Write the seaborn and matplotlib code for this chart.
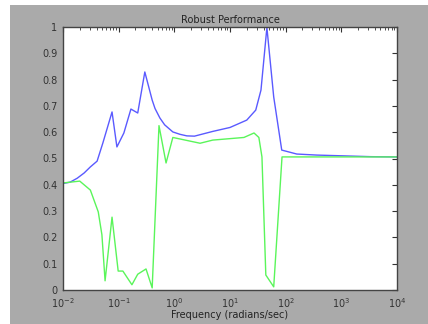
import matplotlib
matplotlib.use("Agg")
import matplotlib.pyplot as plt
import numpy as np
import pandas as pd
import seaborn as sns

# Upper curve (blue)
freq_upper = [0.01, 0.0134, 0.018, 0.024, 0.031, 0.041, 0.052, 0.076, 0.093, 0.124,
              0.166, 0.22, 0.295, 0.40, 0.45, 0.55, 0.67, 0.94, 1.26, 1.68, 2.3,
              4.9, 10, 20, 29, 36, 46, 61, 85, 158, 363, 3400, 10000]
mu_upper = [0.405, 0.41, 0.425, 0.445, 0.468, 0.49, 0.559, 0.677, 0.544, 0.597,
            0.688, 0.673, 0.829, 0.722, 0.69, 0.654, 0.628, 0.601, 0.592, 0.586,
            0.585, 0.603, 0.618, 0.646, 0.684, 0.76, 0.998, 0.734, 0.532, 0.517,
            0.513, 0.507, 0.506]

# Lower curve (green)
freq_lower = [0.01, 0.020, 0.031, 0.043, 0.050, 0.057, 0.076, 0.098, 0.119, 0.173,
              0.22, 0.31, 0.40, 0.53, 0.71, 0.94, 2.9, 4.9, 17.8, 27, 33, 37.5,
              44, 61, 86, 10000]
mu_lower = [0.407, 0.414, 0.38, 0.297, 0.21, 0.035, 0.277, 0.072, 0.072, 0.02,
            0.06, 0.08, 0.008, 0.625, 0.483, 0.58, 0.558, 0.57, 0.58, 0.597,
            0.58, 0.506, 0.057, 0.012, 0.506, 0.506]

title = "Robust Performance"
xlabel = "Frequency (radians/sec)"

sns.set_style("white")
plt.rcParams['font.family'] = ['DejaVu Sans']

fig = plt.figure(figsize=(4.28, 3.24), dpi=100, facecolor="white")
# grey panel (leaves a thin white strip on the left and top)
fig.patches.append(plt.Rectangle((10 / 428, 0), 418 / 428, 319 / 324,
                                 transform=fig.transFigure, facecolor="#aaaaaa",
                                 edgecolor="none", zorder=-10))
ax = fig.add_axes([63 / 428, 34 / 324, 334 / 428, 263 / 324])
ax.set_zorder(1)
ax.set_facecolor("white")

df_up = pd.DataFrame({"freq": freq_upper, "mu": mu_upper})
df_lo = pd.DataFrame({"freq": freq_lower, "mu": mu_lower})
sns.lineplot(data=df_up, x="freq", y="mu", ax=ax, color="#5a5aff", linewidth=1.0)
sns.lineplot(data=df_lo, x="freq", y="mu", ax=ax, color="#5af55a", linewidth=1.0)

ax.set_xscale("log")
ax.set_xlim(1e-2, 1e4)
ax.set_ylim(0, 1)
ax.set_yticks(np.arange(0, 1.01, 0.1))
ax.set_yticklabels(["0", "0.1", "0.2", "0.3", "0.4", "0.5", "0.6", "0.7", "0.8", "0.9", "1"])
ax.set_xticks([1e-2, 1e-1, 1e0, 1e1, 1e2, 1e3, 1e4])
ax.set_xticklabels([r"$10^{-2}$", r"$10^{-1}$", r"$10^{0}$", r"$10^{1}$",
                    r"$10^{2}$", r"$10^{3}$", r"$10^{4}$"])

ax.tick_params(which="both", direction="in", top=True, right=True, colors="#333333",
               labelsize=7, labelcolor="#333333")
ax.tick_params(which="major", length=3.5, width=0.8)
ax.tick_params(axis="y", which="major", pad=4)
ax.tick_params(axis="x", which="major", pad=4.5)
ax.tick_params(which="minor", length=2, width=0.6)
for s in ax.spines.values():
    s.set_color("#444444")
    s.set_linewidth(1.0)

ax.set_title(title, fontsize=7, color="#222222", pad=3)
ax.set_xlabel(xlabel, fontsize=7, color="#222222", labelpad=0)
ax.set_ylabel("")

plt.savefig("out.png", dpi=100, facecolor="white")
plt.close()
